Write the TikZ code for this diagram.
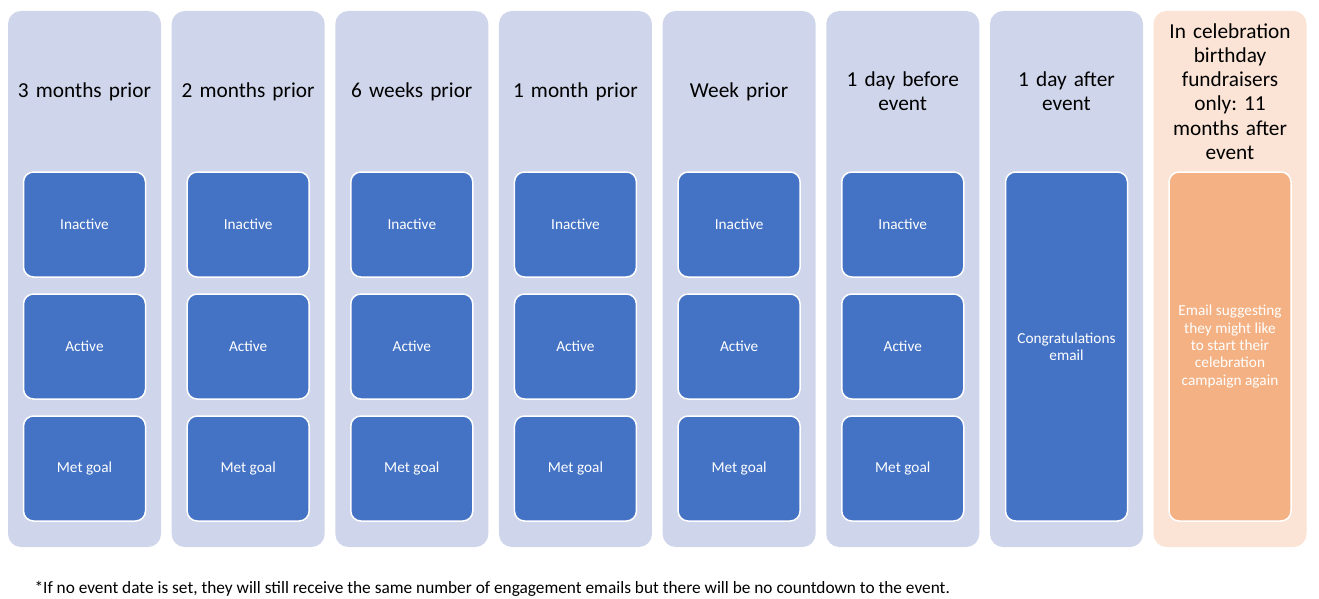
\documentclass[tikz,border=0pt]{standalone}
\usepackage{fontspec}
\setmainfont{Carlito}
\usetikzlibrary{positioning}

\definecolor{laneblue}{HTML}{CFD5EA}
\definecolor{boxblue}{HTML}{4472C4}
\definecolor{lanepeach}{HTML}{FBE4D5}
\definecolor{boxpeach}{HTML}{F4B183}

\begin{document}
\frenchspacing
\begin{tikzpicture}[
        x=1pt, y=-1pt,
        lane/.style={fill=laneblue, draw=none, rounded corners=13pt,
          minimum width=153pt, minimum height=536pt, inner sep=0pt},
        heading/.style={align=center, text width=150pt,
          font=\fontsize{21.3}{24.3}\selectfont},
        mailbox/.style={fill=boxblue, draw=white, line width=1.5pt,
          rounded corners=10pt, minimum width=122pt, minimum height=105pt,
          inner sep=0pt, text=white, align=center,
          font=\fontsize{15.3}{17.3}\selectfont},
      ]

      \useasboundingbox (0,0) rectangle (1319,599);

      % timeline lanes with three emails each
      \foreach \i/\txt in {1/3 months prior, 2/2 months prior, 3/6 weeks prior,
          4/1 month prior, 5/Week prior, 6/1 day before\\event} {
        \node[lane] (lane\i) at ({84.5+163.65*(\i-1)}, 279) {};
        \node[heading] (head\i) at ({84.5+163.65*(\i-1)}, 91.5) {\txt};
        \node[mailbox] (inactive\i) at ({84.5+163.65*(\i-1)}, 224.5) {Inactive};
        \node[mailbox] (active\i) at ({84.5+163.65*(\i-1)}, 346.5) {Active};
        \node[mailbox] (metgoal\i) at ({84.5+163.65*(\i-1)}, 468.5) {Met goal};
      }

      % after the event
      \node[lane] (lane7) at (1066.5, 279) {};
      \node[heading] (head7) at (1066.5, 91.5) {1 day after\\event};
      \node[mailbox, minimum height=349pt] (congrats) at (1066.5, 346.5)
        {Congratulations\\email};

      \node[lane, fill=lanepeach] (lane8) at (1230, 279) {};
      \node[heading] (head8) at (1230, 91.5)
        {In celebration\\birthday\\fundraisers\\only: 11\\months after\\event};
      \node[mailbox, fill=boxpeach, minimum height=349pt] (again) at (1230, 346.5)
        {Email suggesting\\they might like\\to start their\\celebration\\campaign again};

      \node[anchor=west, font=\fontsize{17.3}{20}\selectfont] (note) at (31, 588.5)
        {*If no event date is set, they will still receive the same number of engagement emails but there will be no countdown to the event.};

    \end{tikzpicture}
\end{document}
